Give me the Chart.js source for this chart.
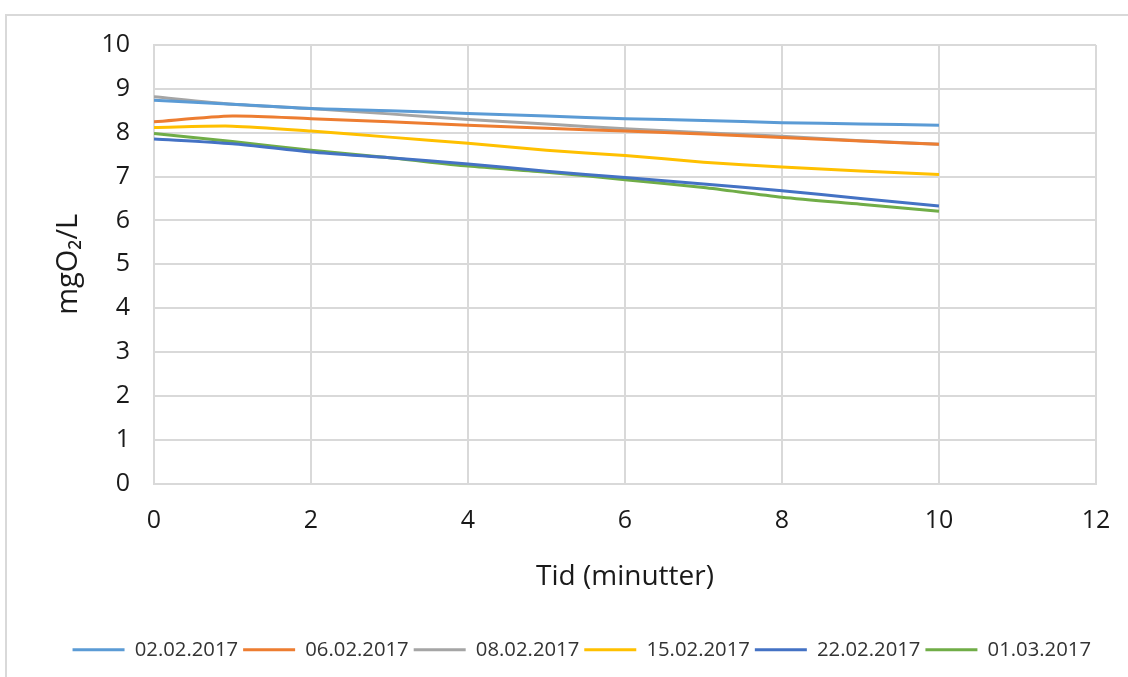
<!DOCTYPE html>
<html>
<head>
<meta charset="utf-8">
<script src="https://cdn.jsdelivr.net/npm/chart.js@4/dist/chart.umd.min.js"></script>
<style>
  html, body { margin: 0; padding: 0; background: #fff; overflow: hidden; }
  #frame { position: absolute; left: 5px; top: 14px; width: 1130px; height: 680px; border: 2px solid #d9d9d9; }
  #wrap { position: absolute; left: 0; top: 0; width: 1128px; height: 677px; }
</style>
</head>
<body>
<div id="frame"></div>
<div id="wrap"><canvas id="chart" width="1128" height="677"></canvas></div>
<script>
// minutes on the x axis
const minutes = [0, 1, 2, 3, 4, 5, 6, 7, 8, 9, 10];

const seriesNames = ['02.02.2017', '06.02.2017', '08.02.2017', '15.02.2017', '22.02.2017', '01.03.2017'];
const seriesColors = ['#5B9BD5', '#ED7D31', '#A5A5A5', '#FFC000', '#4472C4', '#70AD47'];

// mgO2/L readings
const d0202 = [8.74, 8.65, 8.55, 8.50, 8.44, 8.38, 8.32, 8.28, 8.23, 8.20, 8.17];
const d0602 = [8.25, 8.38, 8.32, 8.25, 8.17, 8.10, 8.04, 7.97, 7.89, 7.81, 7.74];
const d0802 = [8.82, 8.65, 8.55, 8.43, 8.30, 8.20, 8.09, 8.00, 7.92, 7.82, 7.74];
const d1502 = [8.12, 8.15, 8.04, 7.90, 7.76, 7.60, 7.48, 7.33, 7.22, 7.13, 7.05];
const d2202 = [7.86, 7.75, 7.56, 7.43, 7.29, 7.12, 6.98, 6.83, 6.68, 6.50, 6.33];
const d0103 = [7.98, 7.80, 7.60, 7.43, 7.24, 7.10, 6.93, 6.75, 6.53, 6.37, 6.21];

const allValues = [d0202, d0602, d0802, d1502, d2202, d0103];

const yTicks = { min: 0, max: 10, step: 1 };
const xTicks = { min: 0, max: 12, step: 2 };

const font = "'Open Sans', 'DejaVu Sans', sans-serif";
const gridColor = '#d9d9d9';

let datasets = allValues.map((vals, i) => ({
    label: seriesNames[i],
    data: minutes.map((m, j) => ({ x: m, y: vals[j] })),
    borderColor: seriesColors[i],
    backgroundColor: seriesColors[i],
    borderWidth: 3,
    pointRadius: 0,
    tension: 0.25,
    fill: false
}));

new Chart(document.getElementById('chart'), {
    type: 'line',
    data: { datasets: datasets },
    options: {
        responsive: false,
        animation: false,
        layout: { padding: { top: 45, right: 32, bottom: 7, left: 0 } },
        plugins: {
            tooltip: { enabled: false },
            legend: {
                position: 'bottom',
                align: 'end',
                labels: {
                    boxWidth: 52,
                    boxHeight: 3,
                    padding: 5,
                    color: '#333',
                    font: { family: font, size: 20.3 },
                    generateLabels: (chart) => {
                        let items = Chart.defaults.plugins.legend.labels.generateLabels(chart);
                        items.forEach(it => { it.lineWidth = 0; });
                        return items;
                    }
                }
            }
        },
        scales: {
            x: {
                type: 'linear',
                min: xTicks.min,
                max: xTicks.max,
                ticks: { stepSize: xTicks.step, padding: 22, color: '#1a1a1a', font: { family: font, size: 25 } },
                grid: { color: gridColor, lineWidth: 2, drawTicks: false },
                border: { color: gridColor, width: 2 },
                title: { display: true, text: 'Tid (minutter)', color: '#1a1a1a', font: { family: font, size: 28 }, padding: { top: 0, bottom: 41 } },
                afterFit: (scale) => { scale.height = 151; scale.paddingRight = 0; scale.paddingLeft = 0; }
            },
            y: {
                min: yTicks.min,
                max: yTicks.max,
                ticks: { stepSize: yTicks.step, padding: 24, color: '#1a1a1a', font: { family: font, size: 25 } },
                grid: { color: gridColor, lineWidth: 2, drawTicks: false },
                border: { color: gridColor, width: 2 },
                title: { display: true, text: 'mgO\u2082/L', color: '#1a1a1a', font: { family: font, size: 29 }, padding: { top: 51, bottom: 0 } },
                afterFit: (scale) => { scale.width = 154; }
            }
        }
    }
});
</script>
</body>
</html>
